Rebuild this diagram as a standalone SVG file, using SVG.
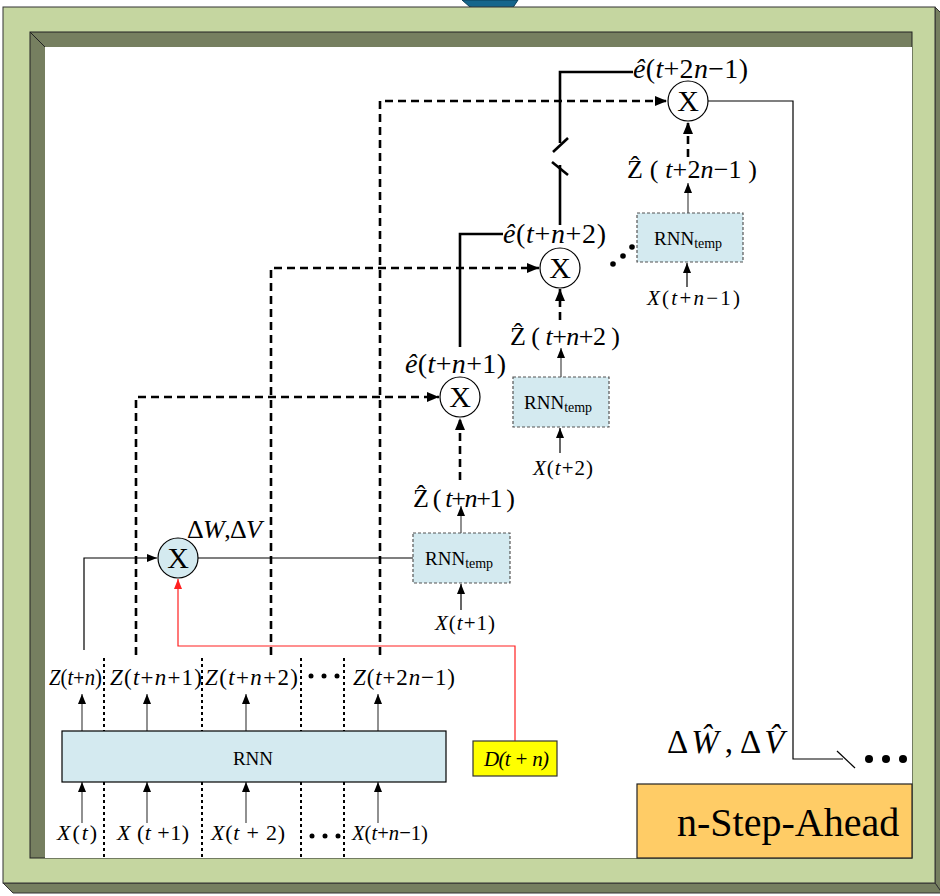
<svg xmlns="http://www.w3.org/2000/svg" width="940" height="896" viewBox="0 0 940 896">
<style>
.t{font-family:"Liberation Serif","DejaVu Serif",serif;fill:#000}
.i{font-style:italic}
.thin{fill:none;stroke:#000;stroke-width:1.2}
.gray{fill:none;stroke:#555;stroke-width:1.3}
.dash{fill:none;stroke:#000;stroke-width:2.6;stroke-dasharray:8,5}
.dot{fill:none;stroke:#000;stroke-width:2;stroke-dasharray:3,3}
.thick{fill:none;stroke:#000;stroke-width:2.6}
.red{fill:none;stroke:#ff2020;stroke-width:1.2}
.node{stroke:#000;stroke-width:1.2}
.tmp{fill:#d4eaf0;stroke:#555;stroke-width:1.2;stroke-dasharray:3,2}
</style>
<defs>
<marker id="ab" viewBox="0 0 12 10" refX="12" refY="5" markerWidth="12" markerHeight="10" markerUnits="userSpaceOnUse" orient="auto"><path d="M0,0L12,5L0,10z" fill="#000"/></marker>
<marker id="as" viewBox="0 0 10 8" refX="10" refY="4" markerWidth="10" markerHeight="8" markerUnits="userSpaceOnUse" orient="auto"><path d="M0,0L10,4L0,8z" fill="#000"/></marker>
<marker id="ar" viewBox="0 0 10 8" refX="10" refY="4" markerWidth="10" markerHeight="8" markerUnits="userSpaceOnUse" orient="auto"><path d="M0,0L10,4L0,8z" fill="#ff2020"/></marker>
</defs>
<rect width="940" height="896" fill="#fff"/>
<g id="frame">
<path d="M462,0L518,0L512,9Q505,16 494,13L470,7Z" fill="#15668c" stroke="#0b3f57" stroke-width="1"/>
<polygon points="935,7 942,14 942,893 935,883" fill="#767f60" stroke="#333" stroke-width="1"/>
<polygon points="3,883 935,883 942,893 13,893" fill="#767f60" stroke="#333" stroke-width="1"/>
<rect x="3" y="7" width="932" height="876" fill="#c5d6a0" stroke="#333" stroke-width="1"/>
<rect x="30" y="32" width="882" height="826" fill="#767f60" stroke="#222" stroke-width="1"/>
<rect x="45" y="47" width="867" height="811" fill="#fff"/>
<line x1="30" y1="32" x2="45" y2="47" stroke="#222" stroke-width="1"/>
</g>
<g id="n_step">
<rect x="637" y="784" width="275" height="74" fill="#ffcc66" stroke="#222" stroke-width="1.2"/>
<text class="t" x="677" y="836" font-size="40">n-Step-Ahead</text>
</g>
<g id="connectors">
<polyline class="thin" points="84,650 84,558 157,558" marker-end="url(#as)"/>
<polyline class="dash" points="136,655 136,397 439,397" marker-end="url(#ab)"/>
<polyline class="dash" points="271,655 271,268 539,268" marker-end="url(#ab)"/>
<polyline class="dash" points="380,655 380,101 667,101" marker-end="url(#ab)"/>
<polyline class="red" points="515,741 515,646 178,646 178,579" marker-end="url(#ar)"/>
<line class="thin" x1="198" y1="558" x2="413" y2="558"/>
<line class="gray" x1="461" y1="533" x2="461" y2="506" marker-end="url(#as)"/>
<line class="gray" x1="561" y1="377" x2="561" y2="348" marker-end="url(#as)"/>
<line class="gray" x1="688" y1="213" x2="688" y2="183" marker-end="url(#as)"/>
<line class="thin" x1="461" y1="610" x2="461" y2="584" marker-end="url(#as)"/>
<line class="thin" x1="560" y1="453" x2="560" y2="428" marker-end="url(#as)"/>
<line class="thin" x1="687" y1="287" x2="687" y2="263" marker-end="url(#as)"/>
<line class="dash" x1="460" y1="480" x2="460" y2="418" marker-end="url(#ab)"/>
<line class="dash" x1="560" y1="320" x2="560" y2="289" marker-end="url(#ab)"/>
<line class="dash" x1="688" y1="157" x2="688" y2="122" marker-end="url(#ab)"/>
<polyline class="thick" points="460,347 460,234 503,234"/>
<polyline class="thick" points="560,225 560,165"/>
<polyline class="thick" points="560,143 560,72 633,72"/>
<line class="thick" x1="553" y1="152" x2="568" y2="138"/>
<line class="thick" x1="552" y1="162" x2="568" y2="175"/>
<polyline class="thin" points="708,101 793,101 793,759 843,759"/>
<line class="thin" x1="837" y1="751" x2="855" y2="768"/>
<circle cx="869" cy="759" r="4"/>
<circle cx="886" cy="759" r="4"/>
<circle cx="903" cy="759" r="4"/>
<circle cx="613" cy="264" r="2.8"/>
<circle cx="623" cy="256" r="2.8"/>
<circle cx="632" cy="247" r="2.8"/>
<line class="gray" x1="82" y1="731" x2="82" y2="694" marker-end="url(#as)"/>
<line class="gray" x1="147" y1="731" x2="147" y2="694" marker-end="url(#as)"/>
<line class="gray" x1="246" y1="731" x2="246" y2="694" marker-end="url(#as)"/>
<line class="gray" x1="378" y1="731" x2="378" y2="694" marker-end="url(#as)"/>
<line class="gray" x1="82" y1="823" x2="82" y2="782" marker-end="url(#as)"/>
<line class="gray" x1="147" y1="823" x2="147" y2="782" marker-end="url(#as)"/>
<line class="gray" x1="246" y1="823" x2="246" y2="782" marker-end="url(#as)"/>
<line class="gray" x1="378" y1="823" x2="378" y2="782" marker-end="url(#as)"/>
<line class="dot" x1="104" y1="658" x2="104" y2="731"/>
<line class="dot" x1="202" y1="658" x2="202" y2="731"/>
<line class="dot" x1="301" y1="658" x2="301" y2="731"/>
<line class="dot" x1="344" y1="658" x2="344" y2="731"/>
<line class="dot" x1="104" y1="782" x2="104" y2="858"/>
<line class="dot" x1="202" y1="782" x2="202" y2="858"/>
<line class="dot" x1="301" y1="782" x2="301" y2="858"/>
<line class="dot" x1="344" y1="782" x2="344" y2="858"/>
<circle cx="311" cy="676" r="2.5"/>
<circle cx="324" cy="676" r="2.5"/>
<circle cx="337" cy="676" r="2.5"/>
<circle cx="312" cy="836" r="2.5"/>
<circle cx="325" cy="836" r="2.5"/>
<circle cx="338" cy="836" r="2.5"/>
</g>
<g id="mult1">
<circle class="node" cx="178" cy="558" r="20" fill="#d4eaf0"/>
<text class="t" x="178" y="568" font-size="30" text-anchor="middle">X</text>
<text class="t" x="187" y="538" font-size="26" textLength="75" lengthAdjust="spacing">Δ<tspan class="i">W</tspan>,Δ<tspan class="i">V</tspan></text>
</g>
<g id="mult2">
<circle class="node" cx="460" cy="397" r="20" fill="#fff"/>
<text class="t" x="460" y="407" font-size="30" text-anchor="middle">X</text>
<text class="t" x="405" y="373" font-size="28" textLength="101" lengthAdjust="spacing"><tspan class="i">ê</tspan>(<tspan class="i">t</tspan>+<tspan class="i">n</tspan>+1)</text>
</g>
<g id="mult3">
<circle class="node" cx="560" cy="268" r="20" fill="#fff"/>
<text class="t" x="560" y="278" font-size="30" text-anchor="middle">X</text>
<text class="t" x="503" y="243" font-size="28" textLength="103" lengthAdjust="spacing"><tspan class="i">ê</tspan>(<tspan class="i">t</tspan>+<tspan class="i">n</tspan>+2)</text>
</g>
<g id="mult4">
<circle class="node" cx="688" cy="101" r="20" fill="#fff"/>
<text class="t" x="688" y="111" font-size="30" text-anchor="middle">X</text>
<text class="t" x="633" y="78" font-size="28" textLength="115" lengthAdjust="spacing"><tspan class="i">ê</tspan>(<tspan class="i">t</tspan>+2<tspan class="i">n</tspan>−1)</text>
</g>
<g id="rnn_temp1">
<rect class="tmp" x="413" y="533" width="97" height="50"/>
<text class="t" x="425" y="565" font-size="19">RNN<tspan font-size="14" dy="3">temp</tspan></text>
<text class="t" x="413" y="507" font-size="26" textLength="102" lengthAdjust="spacing">Ẑ ( <tspan class="i">t</tspan>+<tspan class="i">n</tspan>+1 )</text>
<text class="t" x="435" y="630" font-size="21" textLength="60" lengthAdjust="spacing"><tspan class="i">X</tspan>(<tspan class="i">t</tspan>+1)</text>
</g>
<g id="rnn_temp2">
<rect class="tmp" x="513" y="377" width="96" height="50"/>
<text class="t" x="524" y="409" font-size="19">RNN<tspan font-size="14" dy="3">temp</tspan></text>
<text class="t" x="510" y="345" font-size="26" textLength="110" lengthAdjust="spacing">Ẑ ( <tspan class="i">t</tspan>+<tspan class="i">n</tspan>+2 )</text>
<text class="t" x="533" y="475" font-size="21" textLength="60" lengthAdjust="spacing"><tspan class="i">X</tspan>(<tspan class="i">t</tspan>+2)</text>
</g>
<g id="rnn_temp3">
<rect class="tmp" x="637" y="213" width="106" height="49"/>
<text class="t" x="654" y="245" font-size="19">RNN<tspan font-size="14" dy="3">temp</tspan></text>
<text class="t" x="627" y="178" font-size="26" textLength="130" lengthAdjust="spacing">Ẑ ( <tspan class="i">t</tspan>+2<tspan class="i">n</tspan>−1 )</text>
<text class="t" x="647" y="305" font-size="21" textLength="93" lengthAdjust="spacing"><tspan class="i">X</tspan>(<tspan class="i">t</tspan>+<tspan class="i">n</tspan>−1)</text>
</g>
<g id="rnn">
<rect class="node" x="62" y="731" width="384" height="51" fill="#d4eaf0"/>
<text class="t" x="253" y="765" font-size="19" text-anchor="middle">RNN</text>
</g>
<g id="z_labels">
<text class="t" x="49" y="685" font-size="23" textLength="53" lengthAdjust="spacingAndGlyphs"><tspan class="i">Z</tspan>(<tspan class="i">t</tspan>+<tspan class="i">n</tspan>)</text>
<text class="t" x="110" y="685" font-size="23" textLength="92" lengthAdjust="spacing"><tspan class="i">Z</tspan>(<tspan class="i">t</tspan>+<tspan class="i">n</tspan>+1)</text>
<text class="t" x="205" y="685" font-size="23" textLength="93" lengthAdjust="spacing"><tspan class="i">Z</tspan>(<tspan class="i">t</tspan>+<tspan class="i">n</tspan>+2)</text>
<text class="t" x="353" y="685" font-size="23" textLength="102" lengthAdjust="spacing"><tspan class="i">Z</tspan>(<tspan class="i">t</tspan>+2<tspan class="i">n</tspan>−1)</text>
</g>
<g id="x_labels">
<text class="t" x="57" y="840" font-size="22" textLength="40" lengthAdjust="spacing"><tspan class="i">X</tspan>(<tspan class="i">t</tspan>)</text>
<text class="t" x="117" y="840" font-size="22" textLength="72" lengthAdjust="spacing"><tspan class="i">X</tspan> (<tspan class="i">t</tspan> +1)</text>
<text class="t" x="211" y="840" font-size="22" textLength="74" lengthAdjust="spacing"><tspan class="i">X</tspan>(<tspan class="i">t</tspan> + 2)</text>
<text class="t" x="352" y="840" font-size="22" textLength="76" lengthAdjust="spacingAndGlyphs"><tspan class="i">X</tspan>(<tspan class="i">t</tspan>+<tspan class="i">n</tspan>−1)</text>
</g>
<g id="d_box">
<rect x="473" y="741" width="84" height="35" fill="#ffff00" stroke="#333" stroke-width="1.2"/>
<text class="t i" x="484" y="766" font-size="21" textLength="65" lengthAdjust="spacing">D(t + n)</text>
</g>
<g id="delta_hat">
<text class="t" x="667" y="753" font-size="33">Δ<tspan class="i" dx="3">Ŵ</tspan><tspan dx="6">,</tspan><tspan dx="7">Δ</tspan><tspan class="i" dx="3">V̂</tspan></text>
</g>
</svg>
